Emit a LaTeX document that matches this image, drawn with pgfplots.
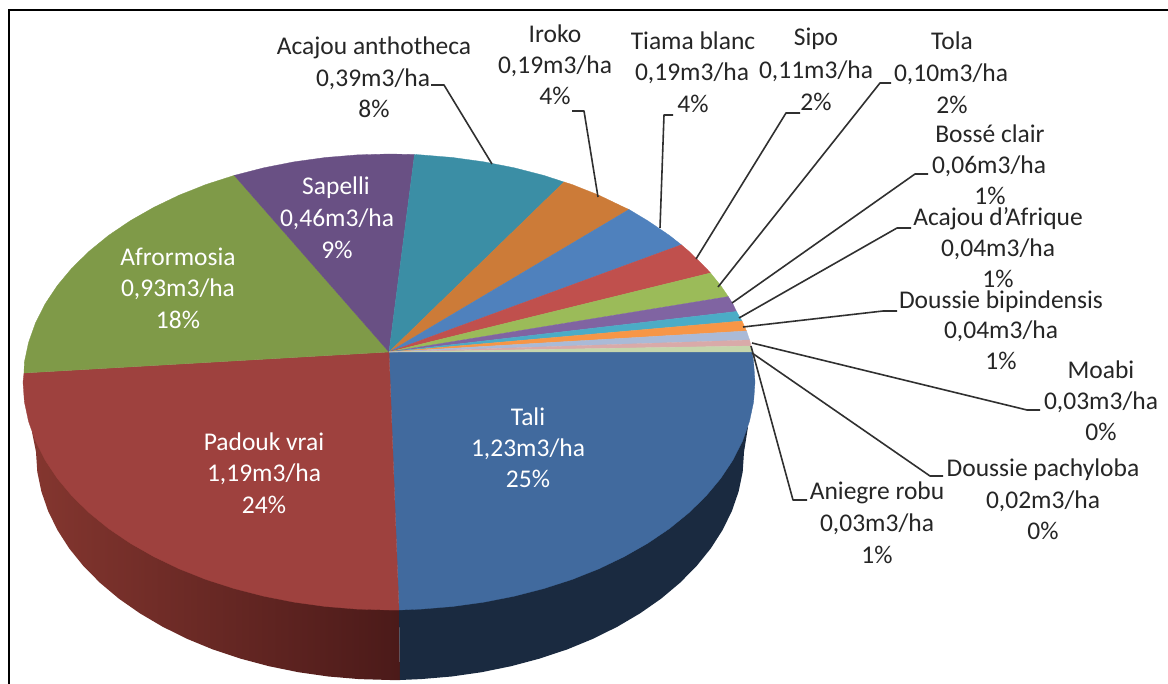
\documentclass[border=0pt]{standalone}
\usepackage{pgfplots}
\pgfplotsset{compat=1.18}
\usepackage{fontspec}
\setmainfont{Carlito}
\definecolor{cTali}{HTML}{416A9E}
\definecolor{cPad}{HTML}{9E413E}
\definecolor{cAfr}{HTML}{7F9A48}
\definecolor{cSap}{HTML}{695084}
\definecolor{cAca}{HTML}{3B8EA5}
\definecolor{cIro}{HTML}{CC7B38}
\definecolor{cTia}{HTML}{4F81BD}
\definecolor{cSip}{HTML}{C0504D}
\definecolor{cTol}{HTML}{9BBB59}
\definecolor{cBos}{HTML}{8064A2}
\definecolor{cAAf}{HTML}{4BACC6}
\definecolor{cBip}{HTML}{F79646}
\definecolor{cMoa}{HTML}{AABAD7}
\definecolor{cDpa}{HTML}{D9AAA9}
\definecolor{cAni}{HTML}{C6D6AC}
\definecolor{cTxt}{HTML}{262626}
\definecolor{cLead}{HTML}{303030}
\definecolor{cSideL}{HTML}{84362F}
\definecolor{cSideR}{HTML}{4B1A19}
\definecolor{cSideT}{HTML}{1A2A40}
\newcommand{\lab}[4][cTxt]{\node[anchor=base,inner sep=0pt,text=#1,font=\fontsize{25.5}{27}\selectfont] at (axis cs:#2,#3) {#4};}
\newcommand{\leader}[1]{\addplot[color=cLead,line width=1.6pt,line join=round] coordinates {#1};}
\begin{document}
\begin{tikzpicture}
\begin{axis}[x=1pt,y=1pt,xmin=0,xmax=1168,ymin=0,ymax=684,y dir=reverse,hide axis,enlargelimits=false]
\addplot[fill=white,draw=none] coordinates {(0,0)(1168,0)(1168,684)(0,684)};
\addplot[color=black,line width=1.5pt] coordinates {(1168,10)(9,10)(9,684)};
% sides
\addplot[draw=none,left color=cSideL,right color=cSideR] coordinates {(32,432)(36,452)(37.3,471.9)(41.4,491.6)(48.1,511)(57.4,530)(69.2,548.4)(83.4,566)(100,582.8)(118.8,598.6)(139.7,613.2)(162.4,626.6)(187,638.8)(213,649.5)(240.4,658.6)(268.9,666.2)(298.4,672.2)(328.5,676.5)(359.1,679.1)(390,680)(400,680)(399,610)};
\addplot[draw=none,fill=cSideT] coordinates {(400,680)(420.9,679.1)(451.5,676.5)(481.6,672.2)(511.1,666.2)(539.6,658.6)(567,649.5)(593,638.8)(617.6,626.6)(640.3,613.2)(661.2,598.6)(680,582.8)(696.6,566)(710.8,548.4)(722.6,530)(731.9,511)(738.6,491.6)(742.7,471.9)(744,452)(748,427)(399,610)};
% top wedges
\addplot[fill=cTali,draw=cTali,line width=0.3pt] coordinates {(389,352)(752,352)(753.6,362.1)(755,382)(753.6,401.9)(749.4,421.6)(742.5,441)(732.9,460)(720.7,478.4)(706,496)(688.8,512.8)(669.4,528.6)(647.8,543.2)(624.3,556.6)(598.9,568.8)(572,579.5)(543.7,588.6)(514.2,596.2)(483.7,602.2)(452.5,606.5)(420.9,609.1)(399,610)(389,352)};
\addplot[fill=cPad,draw=cPad,line width=0.3pt] coordinates {(389,352)(399,610)(389,610)(357.1,609.1)(325.5,606.5)(294.3,602.2)(263.8,596.2)(234.3,588.6)(206,579.5)(179.1,568.8)(153.7,556.6)(130.2,543.2)(108.6,528.6)(89.2,512.8)(72,496)(57.3,478.4)(45.1,460)(35.5,441)(28.6,421.6)(24.4,401.9)(23,382)(24,373)(389,352)};
\addplot[fill=cAfr,draw=cAfr,line width=0.3pt] coordinates {(389,352)(24,373)(24.4,362.1)(28.6,342.4)(35.5,323)(45.1,304)(57.3,285.6)(72,268)(89.2,251.2)(108.6,235.4)(130.2,220.8)(153.7,207.4)(179.1,195.2)(206,184.5)(234.3,175.4)(389,352)};
\addplot[fill=cSap,draw=cSap,line width=0.3pt] coordinates {(389,352)(234.3,175.4)(263.8,167.8)(294.3,161.8)(325.5,157.5)(357.1,154.9)(389,154)(414.5,154.5)(389,352)};
\addplot[fill=cAca,draw=cAca,line width=0.3pt] coordinates {(389,352)(414.5,154.5)(420.9,154.9)(452.5,157.5)(483.7,161.8)(514.2,167.8)(543.7,175.4)(564,182)(389,352)};
\addplot[fill=cIro,draw=cIro,line width=0.3pt] coordinates {(389,352)(564,182)(572,184.5)(598.9,195.2)(624.3,207.4)(629,209.5)(389,352)};
\addplot[fill=cTia,draw=cTia,line width=0.3pt] coordinates {(389,352)(629,209.5)(647.8,220.8)(669.4,235.4)(681.3,244.8)(389,352)};
\addplot[fill=cSip,draw=cSip,line width=0.3pt] coordinates {(389,352)(681.3,244.8)(688.8,251.2)(706,268)(710.5,273)(389,352)};
\addplot[fill=cTol,draw=cTol,line width=0.3pt] coordinates {(389,352)(710.5,273)(720.7,285.6)(728.3,296.6)(389,352)};
\addplot[fill=cBos,draw=cBos,line width=0.3pt] coordinates {(389,352)(728.3,296.6)(732.9,304)(736.5,311.5)(389,352)};
\addplot[fill=cAAf,draw=cAAf,line width=0.3pt] coordinates {(389,352)(736.5,311.5)(742,321)(389,352)};
\addplot[fill=cBip,draw=cBip,line width=0.3pt] coordinates {(389,352)(742,321)(746.5,331)(389,352)};
\addplot[fill=cMoa,draw=cMoa,line width=0.3pt] coordinates {(389,352)(746.5,331)(749.6,340)(389,352)};
\addplot[fill=cDpa,draw=cDpa,line width=0.3pt] coordinates {(389,352)(749.6,340)(751,346)(389,352)};
\addplot[fill=cAni,draw=cAni,line width=0.3pt] coordinates {(389,352)(751,346)(752,352)(389,352)};
% leaders
\leader{(492,164)(444,85)(431,85)}
\leader{(598,197)(584,111)(572,111)}
\leader{(660,228)(664,115)(673,115)}
\leader{(696,259)(786,113)(800,113)}
\leader{(718,287)(880,83)(891,83)}
\leader{(732,303)(915,174)(928,174)}
\leader{(739,318)(897,228)(911,228)}
\leader{(743,327)(883,311)(897,311)}
\leader{(752,343)(1027,410)(1040,410)}
\leader{(752,353)(930,476)(943,476)}
\leader{(751,346)(793,500)(807,500)}
% labels
\lab{374}{55}{Acajou anthotheca}\lab{373}{87}{0,39m3/ha}\lab{374}{118}{8\%}
\lab{555}{43}{Iroko}\lab{555}{74}{0,19m3/ha}\lab{555}{105}{4\%}
\lab{693}{50}{Tiama blanc}\lab{692}{81}{0,19m3/ha}\lab{693}{113}{4\%}
\lab{816}{46}{Sipo}\lab{816}{79}{0,11m3/ha}\lab{816}{111}{2\%}
\lab{952}{50}{Tola}\lab{951}{82}{0,10m3/ha}\lab{952}{114}{2\%}
\lab{990}{143}{Bossé clair}\lab{989}{174}{0,06m3/ha}\lab{990}{205}{1\%}
\lab{998}{226}{Acajou d'Afrique}\lab{998}{257}{0,04m3/ha}\lab{998}{288}{1\%}
\lab{1001}{309}{Doussie bipindensis}\lab{1001}{339}{0,04m3/ha}\lab{1001}{370}{1\%}
\lab{1101}{379}{Moabi}\lab{1101}{410}{0,03m3/ha}\lab{1101}{441}{0\%}
\lab{1043}{477}{Doussie pachyloba}\lab{1043}{508}{0,02m3/ha}\lab{1043}{539}{0\%}
\lab{877}{500}{Aniegre robu}\lab{877}{532}{0,03m3/ha}\lab{877}{563}{1\%}
\lab[white]{528}{426}{Tali}\lab[white]{528}{457}{1,23m3/ha}\lab[white]{528}{488}{25\%}
\lab[white]{264}{451}{Padouk vrai}\lab[white]{264}{482}{1,19m3/ha}\lab[white]{264}{514}{24\%}
\lab[white]{178}{266}{Afrormosia}\lab[white]{178}{297}{0,93m3/ha}\lab[white]{178}{329}{18\%}
\lab[white]{336}{195}{Sapelli}\lab[white]{337}{227}{0,46m3/ha}\lab[white]{337}{259}{9\%}
\end{axis}
\end{tikzpicture}
\end{document}
